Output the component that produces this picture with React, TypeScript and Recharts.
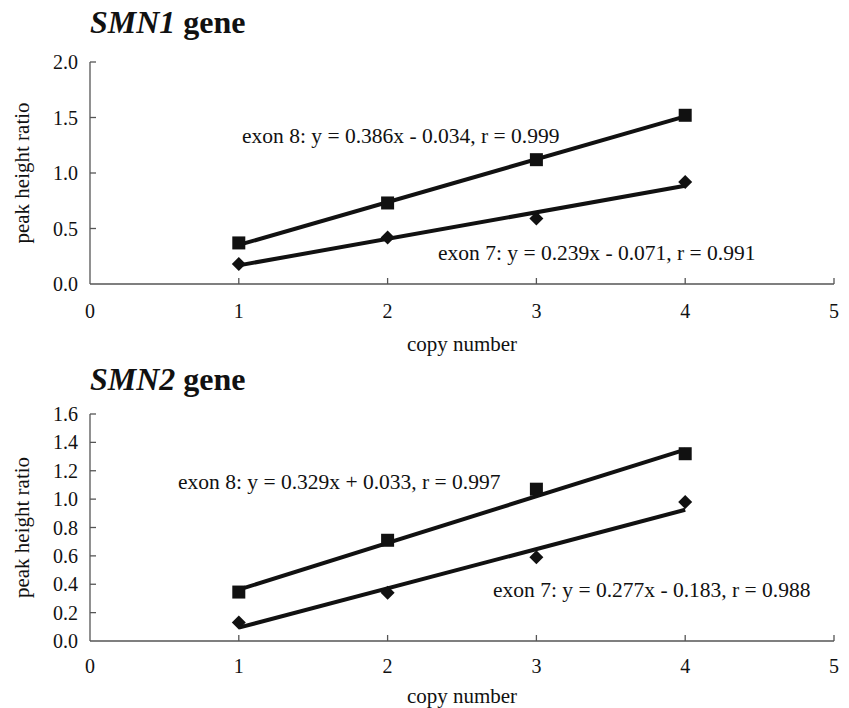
import React from 'react';
import { ScatterChart, Scatter, XAxis, YAxis } from 'recharts';

// copy number on the x axis
const copyNumbers = [1, 2, 3, 4];
const fitRange = [1, 4];
const xTicks = [0, 1, 2, 3, 4, 5];

// SMN1 gene
const smn1Exon8 = [0.37, 0.73, 1.12, 1.52];
const smn1Exon7 = [0.18, 0.42, 0.59, 0.92];
const smn1Exon8Fit = [0.352, 1.51];
const smn1Exon7Fit = [0.168, 0.885];
const smn1YTicks = [0, 0.5, 1.0, 1.5, 2.0];

// SMN2 gene
const smn2Exon8 = [0.345, 0.71, 1.07, 1.32];
const smn2Exon7 = [0.13, 0.34, 0.59, 0.98];
const smn2Exon8Fit = [0.362, 1.349];
const smn2Exon7Fit = [0.094, 0.925];
const smn2YTicks = [0, 0.2, 0.4, 0.6, 0.8, 1.0, 1.2, 1.4, 1.6];

const INK = '#111';
const AXIS = '#555';
const FONT = '"Liberation Serif", "Times New Roman", Times, serif';

const toPoints = (xs: number[], ys: number[]) => xs.map((x, i) => ({ x, y: ys[i] }));

const Square = ({ cx, cy }: any) => <rect x={cx - 6.5} y={cy - 6.5} width={13} height={13} fill={INK} />;
const Diamond = ({ cx, cy }: any) => (
  <polygon points={`${cx},${cy - 7} ${cx + 7},${cy} ${cx},${cy + 7} ${cx - 7},${cy}`} fill={INK} />
);
const NoDot = () => <g />;

interface Note {
  text: string;
  left: number;
  top: number;
}

interface PanelProps {
  top: number;
  height: number;
  plotTop: number;
  plotBottom: number;
  yMax: number;
  yTicks: number[];
  exon8: number[];
  exon7: number[];
  exon8Fit: number[];
  exon7Fit: number[];
  xTickDy: number;
  xLabelOffset: number;
}

function GenePanel(p: PanelProps) {
  const xAxisHeight = p.height - p.plotBottom - 4;
  const XTick = ({ x, y, payload }: any) => (
    <g>
      {payload.value !== 0 && <line x1={x} x2={x} y1={y} y2={y - 6} stroke={AXIS} strokeWidth={1.3} />}
      <text x={x} y={y + p.xTickDy} textAnchor="middle" fontSize={20} fontFamily={FONT} fill={INK}>
        {payload.value}
      </text>
    </g>
  );
  const YTick = ({ x, y, payload }: any) => (
    <g>
      {payload.value !== 0 && <line x1={x} x2={x + 6} y1={y} y2={y} stroke={AXIS} strokeWidth={1.3} />}
      <text x={x - 12} y={y + 7} textAnchor="end" fontSize={20} fontFamily={FONT} fill={INK}>
        {Number(payload.value).toFixed(1)}
      </text>
    </g>
  );

  return (
    <div style={{ position: 'absolute', left: 0, top: p.top }}>
      <ScatterChart
        width={849}
        height={p.height}
        margin={{ top: p.plotTop, right: 15, bottom: 4, left: 0 }}
        style={{ fontFamily: FONT }}
      >
        <XAxis
          type="number"
          dataKey="x"
          domain={[0, 5]}
          ticks={xTicks}
          height={xAxisHeight}
          tickSize={0}
          tickMargin={0}
          tickLine={false}
          tick={XTick}
          axisLine={{ stroke: AXIS, strokeWidth: 1.3 }}
          label={{
            value: 'copy number',
            position: 'insideBottom',
            offset: p.xLabelOffset,
            fill: INK,
            fontSize: 21,
            fontFamily: FONT,
          }}
        />
        <YAxis
          type="number"
          dataKey="y"
          domain={[0, p.yMax]}
          ticks={p.yTicks}
          width={90}
          tickSize={0}
          tickMargin={0}
          tickLine={false}
          tick={YTick}
          axisLine={{ stroke: AXIS, strokeWidth: 1.3 }}
          label={{
            value: 'peak height ratio',
            angle: -90,
            position: 'insideLeft',
            offset: 22,
            fill: INK,
            fontSize: 21,
            fontFamily: FONT,
            style: { textAnchor: 'middle' },
          }}
        />
        <Scatter
          data={toPoints(fitRange, p.exon8Fit)}
          line={{ stroke: INK, strokeWidth: 4 }}
          shape={NoDot}
          isAnimationActive={false}
        />
        <Scatter
          data={toPoints(fitRange, p.exon7Fit)}
          line={{ stroke: INK, strokeWidth: 4 }}
          shape={NoDot}
          isAnimationActive={false}
        />
        <Scatter data={toPoints(copyNumbers, p.exon8)} shape={Square} isAnimationActive={false} />
        <Scatter data={toPoints(copyNumbers, p.exon7)} shape={Diamond} isAnimationActive={false} />
      </ScatterChart>
    </div>
  );
}

const Title = ({ gene, top }: { gene: string; top: number }) => (
  <div
    style={{
      position: 'absolute',
      left: 90,
      top,
      fontSize: 32,
      lineHeight: '32px',
      fontWeight: 'bold',
      whiteSpace: 'nowrap',
      color: INK,
    }}
  >
    <i>{gene}</i> gene
  </div>
);

const notes: Note[] = [
  { text: 'exon 8: y = 0.386x - 0.034, r = 0.999', left: 242, top: 126 },
  { text: 'exon 7: y = 0.239x - 0.071, r = 0.991', left: 438, top: 243 },
  { text: 'exon 8: y = 0.329x + 0.033, r = 0.997', left: 178, top: 472 },
  { text: 'exon 7: y = 0.277x - 0.183, r = 0.988', left: 493, top: 580 },
];

export default function App() {
  return (
    <div
      style={{
        position: 'absolute',
        left: 0,
        top: 0,
        width: 849,
        height: 708,
        background: '#fff',
        fontFamily: FONT,
        overflow: 'hidden',
      }}
    >
      <GenePanel
        top={0}
        height={360}
        plotTop={62}
        plotBottom={284}
        yMax={2}
        yTicks={smn1YTicks}
        exon8={smn1Exon8}
        exon7={smn1Exon7}
        exon8Fit={smn1Exon8Fit}
        exon7Fit={smn1Exon7Fit}
        xTickDy={34}
        xLabelOffset={5}
      />
      <GenePanel
        top={360}
        height={348}
        plotTop={54}
        plotBottom={281}
        yMax={1.6}
        yTicks={smn2YTicks}
        exon8={smn2Exon8}
        exon7={smn2Exon7}
        exon8Fit={smn2Exon8Fit}
        exon7Fit={smn2Exon7Fit}
        xTickDy={32}
        xLabelOffset={1}
      />
      <Title gene="SMN1" top={6} />
      <Title gene="SMN2" top={363} />
      {notes.map((n) => (
        <div
          key={n.text}
          style={{
            position: 'absolute',
            left: n.left,
            top: n.top,
            fontSize: 21.5,
            lineHeight: '21px',
            whiteSpace: 'nowrap',
            color: INK,
          }}
        >
          {n.text}
        </div>
      ))}
    </div>
  );
}
